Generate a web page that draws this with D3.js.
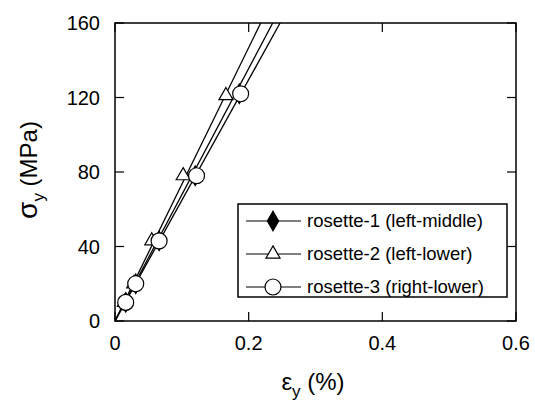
<!DOCTYPE html>
<html>
<head>
<meta charset="utf-8">
<script src="https://cdn.jsdelivr.net/npm/d3@7"></script>
<style>
  body { margin: 0; background: #fff; }
  svg { font-family: "Liberation Sans", Arial, Helvetica, sans-serif; }
</style>
</head>
<body>
<svg id="chart" width="535" height="404"></svg>
<script>
// strain (%) / stress (MPa)
var seriesNames = ['rosette-1 (left-middle)', 'rosette-2 (left-lower)', 'rosette-3 (right-lower)'];
var seriesSymbols = ['diamond', 'triangle', 'circle'];
var strain1 = [0.016, 0.031, 0.066, 0.120, 0.186];
var stress1 = [10, 20, 43, 78, 122];
var strain2 = [0.014, 0.028, 0.055, 0.102, 0.166];
var stress2 = [10, 20, 43, 78, 121];
var strain3 = [0.016, 0.031, 0.066, 0.122, 0.188];
var stress3 = [10, 20, 43, 78, 122];
// fitted line end (strain at 160 MPa)
var fitEnd = [0.236, 0.218, 0.247];
var xTicks = [0, 0.2, 0.4, 0.6];
var yTicks = [0, 40, 80, 120, 160];

var margin = {left: 115, right: 19, top: 23, bottom: 83};
var W = 535, H = 404;
var svg = d3.select('#chart');

var x = d3.scaleLinear().domain([0, 0.6]).range([margin.left, W - margin.right]);
var y = d3.scaleLinear().domain([0, 160]).range([H - margin.bottom, margin.top]);

var g = svg.append('g');

// frame
g.append('rect')
  .attr('x', x(0)).attr('y', y(160))
  .attr('width', x(0.6) - x(0)).attr('height', y(0) - y(160))
  .attr('fill', 'none').attr('stroke', '#000').attr('stroke-width', 1.5);

// inward ticks on all sides
var tl = 9;
xTicks.forEach(function(t) {
  g.append('line').attr('x1', x(t)).attr('x2', x(t)).attr('y1', y(0)).attr('y2', y(0) - tl)
    .attr('stroke', '#000').attr('stroke-width', 1.2);
  g.append('line').attr('x1', x(t)).attr('x2', x(t)).attr('y1', y(160)).attr('y2', y(160) + tl)
    .attr('stroke', '#000').attr('stroke-width', 1.2);
  g.append('text').attr('x', x(t)).attr('y', y(0) + 29)
    .attr('text-anchor', 'middle').attr('font-size', 20).text(t === 0 ? '0' : t);
});
yTicks.forEach(function(t) {
  g.append('line').attr('x1', x(0)).attr('x2', x(0) + tl).attr('y1', y(t)).attr('y2', y(t))
    .attr('stroke', '#000').attr('stroke-width', 1.2);
  g.append('line').attr('x1', x(0.6)).attr('x2', x(0.6) - tl).attr('y1', y(t)).attr('y2', y(t))
    .attr('stroke', '#000').attr('stroke-width', 1.2);
  g.append('text').attr('x', x(0) - 15).attr('y', y(t) + 7)
    .attr('text-anchor', 'end').attr('font-size', 20).text(t);
});

// axis titles
var xt = g.append('text').attr('x', 313).attr('y', 390).attr('text-anchor', 'middle').attr('font-size', 24);
xt.append('tspan').text('\u03b5');
xt.append('tspan').attr('font-size', 17).attr('dy', 7).text('y');
xt.append('tspan').attr('dy', -7).text(' (%)');

var yt = g.append('text').attr('transform', 'translate(37,170) rotate(-90)')
  .attr('text-anchor', 'middle').attr('font-size', 24);
yt.append('tspan').attr('font-size', 28).text('\u03c3');
yt.append('tspan').attr('font-size', 17).attr('dy', 7).text('y');
yt.append('tspan').attr('dy', -7).text(' (MPa)');

// clip to plot area
svg.append('clipPath').attr('id', 'clip').append('rect')
  .attr('x', x(0)).attr('y', y(160)).attr('width', x(0.6) - x(0)).attr('height', y(0) - y(160));

var strains = [strain1, strain2, strain3];
var stresses = [stress1, stress2, stress3];
var plot = svg.append('g').attr('clip-path', 'url(#clip)');

function symbolPath(kind) {
  if (kind === 'diamond') return d3.symbol().type(d3.symbolDiamond).size(110)();
  if (kind === 'triangle') return d3.symbol().type(d3.symbolTriangle).size(85)();
  return d3.symbol().type(d3.symbolCircle).size(200)();
}

// fit lines through origin
fitEnd.forEach(function(e) {
  plot.append('line')
    .attr('x1', x(0)).attr('y1', y(0)).attr('x2', x(e)).attr('y2', y(160))
    .attr('stroke', '#000').attr('stroke-width', 1.3);
});

// markers
[0, 1, 2].forEach(function(s) {
  strains[s].forEach(function(v, i) {
    plot.append('path')
      .attr('d', symbolPath(seriesSymbols[s]))
      .attr('transform', 'translate(' + x(v) + ',' + y(stresses[s][i]) + ')')
      .attr('fill', seriesSymbols[s] === 'diamond' ? '#000' : '#fff')
      .attr('stroke', '#000').attr('stroke-width', 1.2);
  });
});

// legend
var lg = svg.append('g');
lg.append('rect').attr('x', 238).attr('y', 204).attr('width', 269).attr('height', 93)
  .attr('fill', '#fff').attr('stroke', '#000').attr('stroke-width', 1.5);
seriesNames.forEach(function(n, i) {
  var ry = 221 + i * 33;
  lg.append('line').attr('x1', 246).attr('x2', 301).attr('y1', ry).attr('y2', ry)
    .attr('stroke', '#000').attr('stroke-width', 1.2);
  lg.append('path').attr('d', symbolPath(seriesSymbols[i]))
    .attr('transform', 'translate(273,' + ry + ')')
    .attr('fill', seriesSymbols[i] === 'diamond' ? '#000' : '#fff')
    .attr('stroke', '#000').attr('stroke-width', 1.2);
  lg.append('text').attr('x', 307).attr('y', ry + 6).attr('font-size', 18.5).text(n);
});
</script>
</body>
</html>
